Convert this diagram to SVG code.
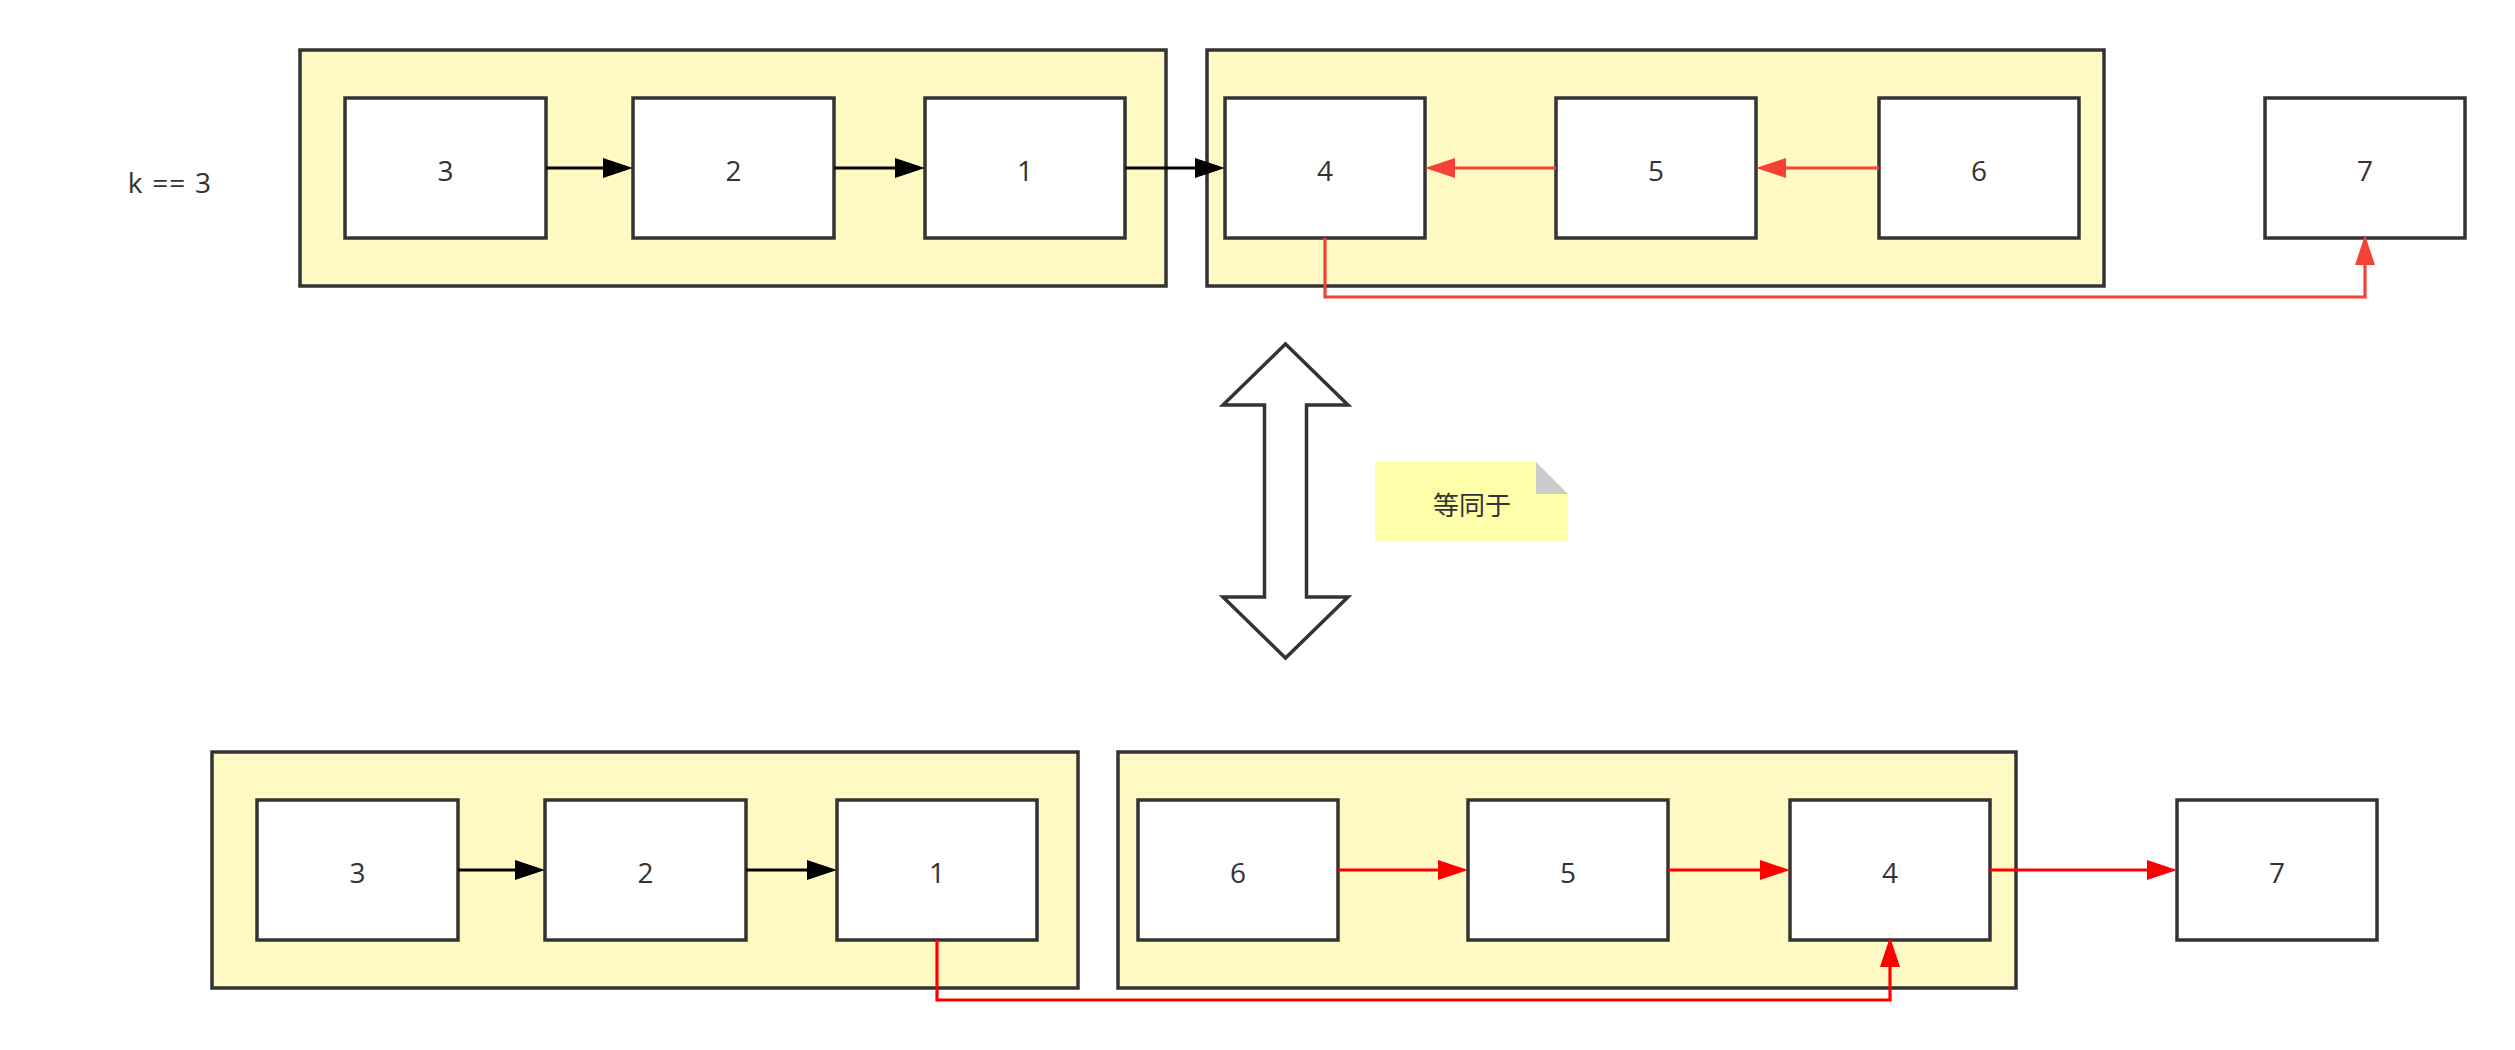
<svg xmlns="http://www.w3.org/2000/svg" width="2515" height="1050" viewBox="0 0 2515 1050">
<style>
.grp{fill:#FFF9C4;stroke:#333333;stroke-width:3.5}
.node{fill:#FFFFFF;stroke:#333333;stroke-width:3.5}
.lbl{font-family:"Open Sans","Liberation Sans",sans-serif;font-size:28px;fill:#333333;text-anchor:middle}
.blk{fill:none;stroke:#000000;stroke-width:3.2}
.red1{fill:none;stroke:#F44336;stroke-width:3.2}
.red2{fill:none;stroke:#FF0000;stroke-width:3.2}
</style>
<defs>
<marker id="mBlk" viewBox="0 0 30 20" refX="1" refY="10" markerWidth="30" markerHeight="20" markerUnits="userSpaceOnUse" orient="auto"><path d="M0,0 L30,10 L0,20 Z" fill="#000000"/></marker>
<marker id="mRed1" viewBox="0 0 30 20" refX="1" refY="10" markerWidth="30" markerHeight="20" markerUnits="userSpaceOnUse" orient="auto"><path d="M0,0 L30,10 L0,20 Z" fill="#F44336"/></marker>
<marker id="mRed2" viewBox="0 0 30 20" refX="1" refY="10" markerWidth="30" markerHeight="20" markerUnits="userSpaceOnUse" orient="auto"><path d="M0,0 L30,10 L0,20 Z" fill="#FF0000"/></marker>
</defs>
<rect width="2515" height="1050" fill="#FFFFFF"/>

<text id="k-label" class="lbl" x="170" y="193" letter-spacing="1.2">k == 3</text>

<!-- top row -->
<g id="top-group1"><rect class="grp" x="300" y="50" width="866" height="236"/></g>
<g id="top-group2"><rect class="grp" x="1207" y="50" width="897" height="236"/></g>
<g id="top-n3"><rect class="node" x="345" y="98" width="201" height="140"/><text class="lbl" x="445.5" y="181">3</text></g>
<g id="top-n2"><rect class="node" x="633" y="98" width="201" height="140"/><text class="lbl" x="733.5" y="181">2</text></g>
<g id="top-n1"><rect class="node" x="925" y="98" width="200" height="140"/><text class="lbl" x="1025" y="181">1</text></g>
<g id="top-n4"><rect class="node" x="1225" y="98" width="200" height="140"/><text class="lbl" x="1325" y="181">4</text></g>
<g id="top-n5"><rect class="node" x="1556" y="98" width="200" height="140"/><text class="lbl" x="1656" y="181">5</text></g>
<g id="top-n6"><rect class="node" x="1879" y="98" width="200" height="140"/><text class="lbl" x="1979" y="181">6</text></g>
<g id="top-n7"><rect class="node" x="2265" y="98" width="200" height="140"/><text class="lbl" x="2365" y="181">7</text></g>

<!-- middle -->
<g id="equiv-arrow"><polygon points="1285.5,344 1348,405 1306.5,405 1306.5,597 1348,597 1285.5,658 1223,597 1264.5,597 1264.5,405 1223,405" fill="#FFFFFF" stroke="#333333" stroke-width="3.5"/></g>
<g id="note">
<polygon points="1375,462 1536,462 1568,494 1568,541 1375,541" fill="#FFFFAA"/>
<polygon points="1536,462 1568,494 1536,494" fill="#CCCCCC"/>
<text x="1472" y="515" font-family="'Noto Sans CJK SC','Noto Sans',sans-serif" font-size="26" fill="#333333" text-anchor="middle">等同于</text>
</g>

<!-- bottom row -->
<g id="bot-group1"><rect class="grp" x="212" y="752" width="866" height="236"/></g>
<g id="bot-group2"><rect class="grp" x="1118" y="752" width="898" height="236"/></g>
<g id="bot-n3"><rect class="node" x="257" y="800" width="201" height="140"/><text class="lbl" x="357.5" y="883">3</text></g>
<g id="bot-n2"><rect class="node" x="545" y="800" width="201" height="140"/><text class="lbl" x="645.5" y="883">2</text></g>
<g id="bot-n1"><rect class="node" x="837" y="800" width="200" height="140"/><text class="lbl" x="937" y="883">1</text></g>
<g id="bot-n6"><rect class="node" x="1138" y="800" width="200" height="140"/><text class="lbl" x="1238" y="883">6</text></g>
<g id="bot-n5"><rect class="node" x="1468" y="800" width="200" height="140"/><text class="lbl" x="1568" y="883">5</text></g>
<g id="bot-n4"><rect class="node" x="1790" y="800" width="200" height="140"/><text class="lbl" x="1890" y="883">4</text></g>
<g id="bot-n7"><rect class="node" x="2177" y="800" width="200" height="140"/><text class="lbl" x="2277" y="883">7</text></g>

<g id="connectors">
<path class="blk" d="M546,168 L604,168" marker-end="url(#mBlk)"/>
<path class="blk" d="M834,168 L896,168" marker-end="url(#mBlk)"/>
<path class="blk" d="M1125,168 L1196,168" marker-end="url(#mBlk)"/>
<path class="red1" d="M1556,168 L1454,168" marker-end="url(#mRed1)"/>
<path class="red1" d="M1879,168 L1785,168" marker-end="url(#mRed1)"/>
<path class="red1" d="M1325,238 L1325,297 L2365,297 L2365,264" marker-end="url(#mRed1)"/>

<path class="blk" d="M458,870 L516,870" marker-end="url(#mBlk)"/>
<path class="blk" d="M746,870 L808,870" marker-end="url(#mBlk)"/>
<path class="red2" d="M1338,870 L1439,870" marker-end="url(#mRed2)"/>
<path class="red2" d="M1668,870 L1761,870" marker-end="url(#mRed2)"/>
<path class="red2" d="M1990,870 L2148,870" marker-end="url(#mRed2)"/>
<path class="red2" d="M937,940 L937,1000 L1890,1000 L1890,966" marker-end="url(#mRed2)"/>
</g>
</svg>
